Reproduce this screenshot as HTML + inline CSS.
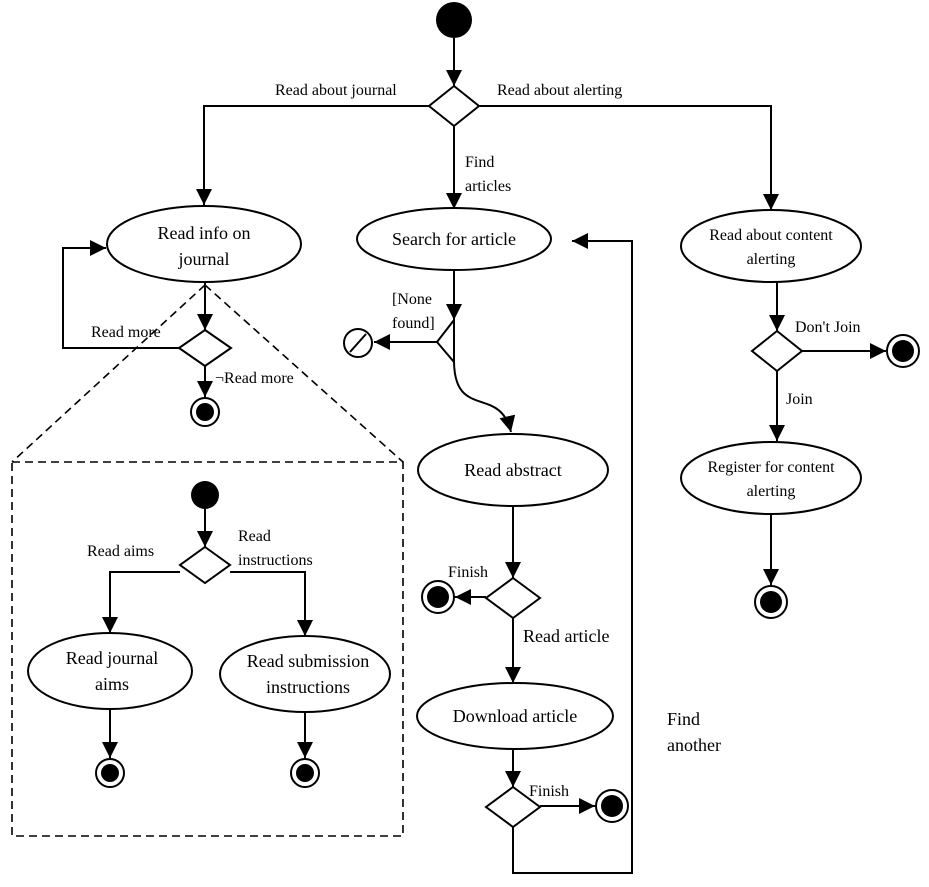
<!DOCTYPE html>
<html><head><meta charset="utf-8"><style>
html,body{margin:0;padding:0;background:#fff}
svg text{font-family:"Liberation Serif",serif;fill:#000}
</style></head><body>
<svg width="929" height="882" viewBox="0 0 929 882" xmlns="http://www.w3.org/2000/svg">
<defs>
<marker id="a" viewBox="0 0 10 10" refX="10" refY="5" markerWidth="16" markerHeight="16" markerUnits="userSpaceOnUse" orient="auto"><path d="M0,0L10,5L0,10z" fill="#000"/></marker>
</defs>
<g stroke="#000" stroke-width="2" fill="none">
<line x1="454" y1="38" x2="454" y2="86" marker-end="url(#a)"/>
<polygon points="454,86 479,106 454,126 429,106" fill="#fff"/>
<polyline points="429,106 204,106 204,205" marker-end="url(#a)"/>
<polyline points="479,106 771,106 771,210" marker-end="url(#a)"/>
<line x1="454" y1="126" x2="454" y2="209" marker-end="url(#a)"/>
<ellipse cx="204" cy="244" rx="97" ry="38" fill="#fff"/>
<line x1="205" y1="282" x2="205" y2="330" marker-end="url(#a)"/>
<polygon points="205,330 231,348 205,366 179,348" fill="#fff"/>
<polyline points="179,348 63,348 63,248 106,248" marker-end="url(#a)"/>
<line x1="205" y1="366" x2="205" y2="397" marker-end="url(#a)"/>
<circle cx="205" cy="412" r="14"/>
<g stroke-dasharray="8,5" stroke-width="1.6">
<line x1="205" y1="285" x2="12" y2="462"/>
<line x1="205" y1="285" x2="403" y2="462"/>
<rect x="12" y="462" width="391" height="374"/>
</g>
<line x1="205" y1="509" x2="205" y2="547" marker-end="url(#a)"/>
<polygon points="205,547 230,565 205,583 180,565" fill="#fff"/>
<polyline points="180,572 110,572 110,633" marker-end="url(#a)"/>
<polyline points="230,572 305,572 305,636" marker-end="url(#a)"/>
<ellipse cx="110" cy="671" rx="82" ry="38" fill="#fff"/>
<ellipse cx="305" cy="674" rx="85" ry="38" fill="#fff"/>
<line x1="110" y1="709" x2="110" y2="758" marker-end="url(#a)"/>
<line x1="305" y1="712" x2="305" y2="758" marker-end="url(#a)"/>
<circle cx="110" cy="773" r="14"/><circle cx="305" cy="773" r="14"/>
<ellipse cx="454" cy="239" rx="97" ry="31" fill="#fff"/>
<line x1="454" y1="270" x2="454" y2="320" marker-end="url(#a)"/>
<polyline points="454,320 437,342 454,362 454,300"/>
<line x1="437" y1="342" x2="374" y2="342" marker-end="url(#a)"/>
<circle cx="358" cy="343" r="14"/>
<line x1="350" y1="352" x2="366" y2="334"/>
<path d="M454,362 C455,420 500,385 511,432" marker-end="url(#a)"/>
<ellipse cx="513" cy="470" rx="95" ry="36" fill="#fff"/>
<line x1="513" y1="506" x2="513" y2="578" marker-end="url(#a)"/>
<polygon points="513,578 540,598 513,618 486,598" fill="#fff"/>
<line x1="486" y1="597" x2="455" y2="597" marker-end="url(#a)"/>
<circle cx="438" cy="597" r="16"/>
<line x1="513" y1="618" x2="513" y2="683" marker-end="url(#a)"/>
<ellipse cx="515" cy="716" rx="98" ry="33" fill="#fff"/>
<line x1="513" y1="749" x2="513" y2="787" marker-end="url(#a)"/>
<polygon points="513,787 540,807 513,827 486,807" fill="#fff"/>
<line x1="540" y1="806" x2="595" y2="806" marker-end="url(#a)"/>
<circle cx="612" cy="806" r="16"/>
<polyline points="513,827 513,873 632,873 632,241 572,241" marker-end="url(#a)"/>
<ellipse cx="771" cy="246" rx="90" ry="36" fill="#fff"/>
<line x1="777" y1="282" x2="777" y2="331" marker-end="url(#a)"/>
<polygon points="777,331 802,351 777,371 752,351" fill="#fff"/>
<line x1="802" y1="351" x2="886" y2="351" marker-end="url(#a)"/>
<circle cx="903" cy="351" r="16"/>
<line x1="777" y1="371" x2="777" y2="441" marker-end="url(#a)"/>
<ellipse cx="771" cy="478" rx="90" ry="36" fill="#fff"/>
<line x1="771" y1="514" x2="771" y2="585" marker-end="url(#a)"/>
<circle cx="771" cy="602" r="16"/>
</g>
<g fill="#000">
<circle cx="454" cy="20" r="18"/>
<circle cx="205" cy="412" r="9"/>
<circle cx="205" cy="495" r="14"/>
<circle cx="110" cy="773" r="9"/><circle cx="305" cy="773" r="9"/>
<circle cx="438" cy="597" r="11"/><circle cx="612" cy="806" r="11"/>
<circle cx="903" cy="351" r="11"/><circle cx="771" cy="602" r="11"/>
</g>
<g font-size="16">
<text x="275" y="95">Read about journal</text>
<text x="497" y="95">Read about alerting</text>
<text x="465" y="167">Find</text><text x="465" y="191">articles</text>
<text x="91" y="337">Read more</text>
<text x="215" y="383">¬Read more</text>
<text x="392" y="304">[None</text><text x="392" y="328">found]</text>
<text x="795" y="332">Don't Join</text>
<text x="786" y="404">Join</text>
<text x="87" y="556">Read aims</text>
<text x="238" y="541">Read</text><text x="238" y="565">instructions</text>
<text x="448" y="577">Finish</text>
<text x="529" y="796">Finish</text>
<text x="523" y="642" font-size="18">Read article</text>
<text x="667" y="725" font-size="18">Find</text><text x="667" y="751" font-size="18">another</text>
</g>
<g font-size="18" text-anchor="middle">
<text x="204" y="239">Read info on</text><text x="204" y="265">journal</text>
<text x="454" y="245">Search for article</text>
<text x="771" y="240" font-size="16">Read about content</text><text x="771" y="264" font-size="16">alerting</text>
<text x="513" y="476">Read abstract</text>
<text x="515" y="722">Download article</text>
<text x="771" y="472" font-size="16">Register for content</text><text x="771" y="496" font-size="16">alerting</text>
<text x="112" y="664">Read journal</text><text x="112" y="690">aims</text>
<text x="308" y="667">Read submission</text><text x="308" y="693">instructions</text>
</g>
</svg>
</body></html>
